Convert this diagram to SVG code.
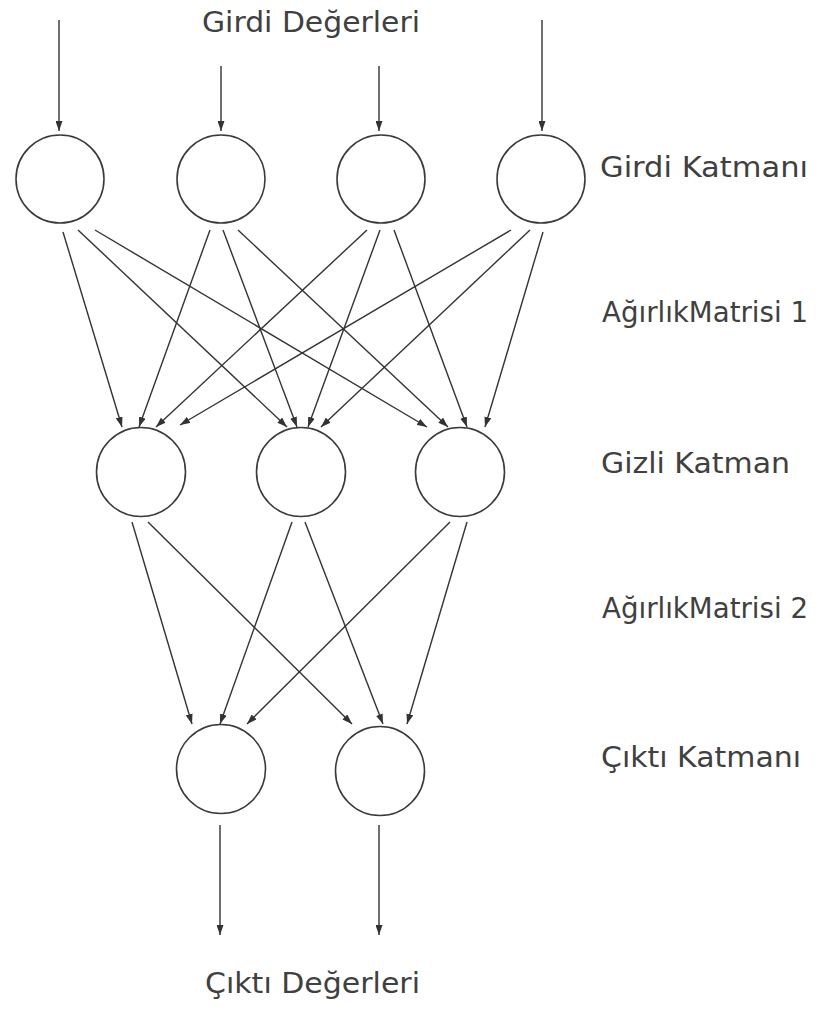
<svg xmlns="http://www.w3.org/2000/svg" width="819" height="1010" viewBox="0 0 819 1010">
  <style>
    .node { fill: none; stroke: #3a3a3a; stroke-width: 1.6; }
    .edge { stroke: #333; stroke-width: 1.4; fill: none; marker-end: url(#arrow); }
    .label { font-family: "DejaVu Sans", "Liberation Sans", sans-serif; font-size: 28px; fill: #404040; }
  </style>
  <defs>
    <marker id="arrow" viewBox="0 0 10 7" refX="10" refY="3.5" markerWidth="10" markerHeight="7" markerUnits="userSpaceOnUse" orient="auto">
      <path d="M0,0 L10,3.5 L0,7 z" fill="#333"/>
    </marker>
  </defs>
  <rect width="819" height="1010" fill="#fff"/>

  <!-- input layer -->
  <g id="in1"><circle class="node" cx="60" cy="179" r="44"/></g>
  <g id="in2"><circle class="node" cx="221" cy="179" r="44"/></g>
  <g id="in3"><circle class="node" cx="381" cy="179" r="44"/></g>
  <g id="in4"><circle class="node" cx="541" cy="179" r="44"/></g>

  <!-- hidden layer -->
  <g id="hid1"><circle class="node" cx="141" cy="472" r="44.5"/></g>
  <g id="hid2"><circle class="node" cx="301" cy="472" r="44.5"/></g>
  <g id="hid3"><circle class="node" cx="460" cy="472" r="44.5"/></g>

  <!-- output layer -->
  <g id="out1"><circle class="node" cx="221" cy="769" r="44.5"/></g>
  <g id="out2"><circle class="node" cx="380" cy="771" r="44.5"/></g>

  <g id="connectors">
    <!-- incoming values -->
    <line class="edge" x1="59" y1="20" x2="59" y2="131"/>
    <line class="edge" x1="221" y1="66" x2="221" y2="131"/>
    <line class="edge" x1="379" y1="66" x2="379" y2="131"/>
    <line class="edge" x1="542" y1="20" x2="542" y2="131"/>

    <!-- weight matrix 1: input to hidden -->
    <line class="edge" x1="63" y1="232" x2="122" y2="427"/>
    <line class="edge" x1="78" y1="230" x2="287" y2="427"/>
    <line class="edge" x1="95" y1="230" x2="427" y2="427"/>
    <line class="edge" x1="210" y1="230" x2="139" y2="427"/>
    <line class="edge" x1="223" y1="230" x2="297" y2="427"/>
    <line class="edge" x1="238" y1="230" x2="448" y2="427"/>
    <line class="edge" x1="367" y1="230" x2="156" y2="427"/>
    <line class="edge" x1="380" y1="230" x2="308" y2="427"/>
    <line class="edge" x1="394" y1="230" x2="467" y2="427"/>
    <line class="edge" x1="511" y1="230" x2="180" y2="425"/>
    <line class="edge" x1="530" y1="230" x2="321" y2="427"/>
    <line class="edge" x1="543" y1="232" x2="485" y2="427"/>

    <!-- weight matrix 2: hidden to output -->
    <line class="edge" x1="132" y1="522" x2="192" y2="724"/>
    <line class="edge" x1="148" y1="522" x2="352" y2="724"/>
    <line class="edge" x1="292" y1="522" x2="220" y2="724"/>
    <line class="edge" x1="305" y1="522" x2="383" y2="724"/>
    <line class="edge" x1="450" y1="522" x2="247" y2="724"/>
    <line class="edge" x1="467" y1="522" x2="407" y2="724"/>

    <!-- outgoing values -->
    <line class="edge" x1="220" y1="825" x2="220" y2="935"/>
    <line class="edge" x1="379" y1="825" x2="379" y2="935"/>
  </g>

  <g id="labels">
    <text class="label" x="202" y="32" textLength="218" lengthAdjust="spacingAndGlyphs">Girdi Değerleri</text>
    <text class="label" x="600" y="177" textLength="208" lengthAdjust="spacingAndGlyphs">Girdi Katmanı</text>
    <text class="label" x="602" y="322" textLength="206" lengthAdjust="spacingAndGlyphs">AğırlıkMatrisi 1</text>
    <text class="label" x="601" y="473" textLength="189" lengthAdjust="spacingAndGlyphs">Gizli Katman</text>
    <text class="label" x="602" y="618" textLength="206" lengthAdjust="spacingAndGlyphs">AğırlıkMatrisi 2</text>
    <text class="label" x="601" y="767" textLength="200" lengthAdjust="spacingAndGlyphs">Çıktı Katmanı</text>
    <text class="label" x="205" y="993" textLength="215" lengthAdjust="spacingAndGlyphs">Çıktı Değerleri</text>
  </g>
</svg>
